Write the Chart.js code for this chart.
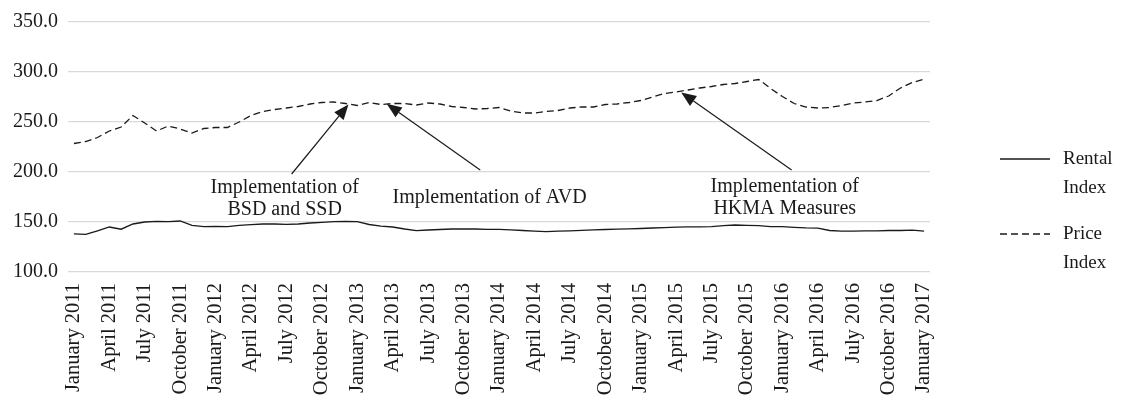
<!DOCTYPE html>
<html>
<head>
<meta charset="utf-8">
<script src="https://cdn.jsdelivr.net/npm/chart.js@4.4.1/dist/chart.umd.min.js"></script>
<style>
  html, body { margin: 0; padding: 0; background: #fff; }
  #wrap { width: 1121px; height: 406px; }
</style>
</head>
<body>
<div id="wrap"><canvas id="myChart" width="1121" height="406"></canvas></div>
<script>
// months Jan 2011 .. Jan 2017
const monthNames = ['January', 'February', 'March', 'April', 'May', 'June',
    'July', 'August', 'September', 'October', 'November', 'December'];
const years = [2011, 2012, 2013, 2014, 2015, 2016, 2017];

const categories = [];
years.forEach((y) => {
    monthNames.forEach((m) => {
        if (categories.length < 73) categories.push(m + ' ' + y);
    });
});

const rentalIndex = [
    138.2, 137.6, 141.2, 145.0, 142.8, 148.0, 150.0, 150.6, 150.3, 151.0, 146.7, 145.4,
    145.7, 145.4, 146.7, 147.4, 148.0, 148.0, 147.7, 148.0, 149.0, 149.7, 150.3, 150.6,
    150.3, 147.5, 145.8, 145.0, 143.0, 141.3, 142.0, 142.5, 143.0, 143.2, 143.0, 142.6,
    142.7, 142.2, 141.5, 140.9, 140.3, 140.9, 141.2, 141.7, 142.2, 142.5, 142.8, 143.1,
    143.5, 144.0, 144.4, 144.8, 145.1, 145.2, 145.4, 146.4, 147.0, 146.7, 146.4, 145.4,
    145.4, 144.7, 144.1, 143.8, 141.5, 140.9, 140.9, 141.2, 141.2, 141.5, 141.5, 141.8,
    140.9
];

const priceIndex = [
    228.5, 230.5, 234.5, 241.0, 245.0, 256.5, 249.0, 241.0, 246.0, 243.0, 239.0, 243.5,
    244.5, 244.5, 250.0, 256.5, 260.5, 262.5, 264.0, 265.5, 268.0, 269.5, 270.0, 268.5,
    266.5, 269.5, 267.5, 268.5, 268.5, 267.0, 269.0, 268.0, 265.5, 264.5, 263.0, 263.5,
    264.5, 261.0, 259.0, 259.0, 260.5, 261.5, 264.0, 265.0, 265.0, 267.5, 268.0, 269.5,
    271.5, 275.0, 278.5, 280.0, 282.0, 284.0, 285.5, 287.5, 288.5, 290.5, 292.5, 283.5,
    275.5, 268.5, 265.0, 264.0, 264.5, 266.5, 269.0, 270.0, 271.5, 276.0, 284.0, 289.5,
    292.8
];

const yTicks = [100, 150, 200, 250, 300, 350];

const seriesNames = [['Rental', 'Index'], ['Price', 'Index']];

// arrows: tip and tail given in (month index, index value)
const notes = [
    { lines: ['Implementation of', 'BSD and SSD'], at: [17.85, 184.3], tip: [23.25, 267.5], tail: [18.44, 198] },
    { lines: ['Implementation of AVD'], at: [35.2, 174.5], tip: [26.49, 268.2], tail: [34.41, 202] },
    { lines: ['Implementation of', 'HKMA Measures'], at: [60.2, 185.3], tip: [51.43, 279.6], tail: [60.78, 202] }
];

const serif = "'Liberation Serif', 'Times New Roman', serif";
const ink = '#1a1a1a';

// arrows and text
const notesPlugin = {
    id: 'notes',
    afterDatasetsDraw(chart) {
        const ctx = chart.ctx;
        const xs = chart.scales.x, ys = chart.scales.y;
        ctx.save();
        ctx.strokeStyle = ink;
        ctx.fillStyle = ink;
        ctx.lineWidth = 1.2;
        notes.forEach((n) => {
            const tx = xs.getPixelForValue(n.tip[0]), ty = ys.getPixelForValue(n.tip[1]);
            const sx = xs.getPixelForValue(n.tail[0]), sy = ys.getPixelForValue(n.tail[1]);
            const ang = Math.atan2(ty - sy, tx - sx);
            const headLen = 15, headW = 6;
            const bx = tx - headLen * Math.cos(ang), by = ty - headLen * Math.sin(ang);
            ctx.beginPath();
            ctx.moveTo(sx, sy);
            ctx.lineTo(bx, by);
            ctx.stroke();
            ctx.beginPath();
            ctx.moveTo(tx, ty);
            ctx.lineTo(bx + headW * Math.sin(ang), by - headW * Math.cos(ang));
            ctx.lineTo(bx - headW * Math.sin(ang), by + headW * Math.cos(ang));
            ctx.closePath();
            ctx.fill();

            ctx.font = '20px ' + serif;
            ctx.textAlign = 'center';
            ctx.textBaseline = 'middle';
            const cx = xs.getPixelForValue(n.at[0]);
            const cy = ys.getPixelForValue(n.at[1]);
            n.lines.forEach((t, k) => ctx.fillText(t, cx, cy + k * 22));
        });
        ctx.restore();
    }
};

// legend on the right, two-line labels
const sideLegend = {
    id: 'sideLegend',
    afterDraw(chart) {
        const ctx = chart.ctx;
        const left = chart.chartArea.right + 70;
        ctx.save();
        ctx.font = '19px ' + serif;
        ctx.fillStyle = ink;
        ctx.textAlign = 'left';
        ctx.textBaseline = 'middle';
        chart.data.datasets.forEach((ds, i) => {
            const y = 159 + i * 75;
            ctx.strokeStyle = ink;
            ctx.lineWidth = 1.3;
            ctx.setLineDash(ds.borderDash || []);
            ctx.beginPath();
            ctx.moveTo(left, y);
            ctx.lineTo(left + 50, y);
            ctx.stroke();
            ctx.setLineDash([]);
            seriesNames[i].forEach((t, k) => ctx.fillText(t, left + 63, y + k * 29));
        });
        ctx.restore();
    }
};

const ctx = document.getElementById('myChart').getContext('2d');
new Chart(ctx, {
    type: 'line',
    data: {
        labels: categories,
        datasets: [{
            label: 'Rental Index',
            data: rentalIndex,
            borderColor: ink,
            borderWidth: 1.3,
            pointRadius: 0,
            tension: 0
        }, {
            label: 'Price Index',
            data: priceIndex,
            borderColor: ink,
            borderWidth: 1.3,
            borderDash: [7, 4],
            pointRadius: 0,
            tension: 0
        }]
    },
    options: {
        responsive: false,
        animation: false,
        layout: {
            padding: { top: 17, right: 191, left: 0, bottom: 0 }
        },
        plugins: {
            legend: { display: false },
            tooltip: { enabled: false }
        },
        scales: {
            x: {
                offset: true,
                grid: { display: false },
                border: { display: false },
                afterFit(scale) { scale.height = 134; },
                ticks: {
                    autoSkip: false,
                    minRotation: 90,
                    maxRotation: 90,
                    padding: 3,
                    color: ink,
                    font: { family: serif, size: 20.5 },
                    callback(value, index) {
                        return index % 3 === 0 ? categories[index] : '';
                    }
                }
            },
            y: {
                min: yTicks[0],
                max: yTicks[yTicks.length - 1],
                afterFit(scale) { scale.width = 68; },
                afterBuildTicks(scale) {
                    scale.ticks = yTicks.map((v) => ({ value: v }));
                },
                grid: { color: '#d9d9d9', lineWidth: 1.3, drawTicks: false },
                border: { display: false },
                ticks: {
                    padding: 10,
                    color: ink,
                    font: { family: serif, size: 20 },
                    callback(v) { return v.toFixed(1); }
                }
            }
        }
    },
    plugins: [notesPlugin, sideLegend]
});
</script>
</body>
</html>
